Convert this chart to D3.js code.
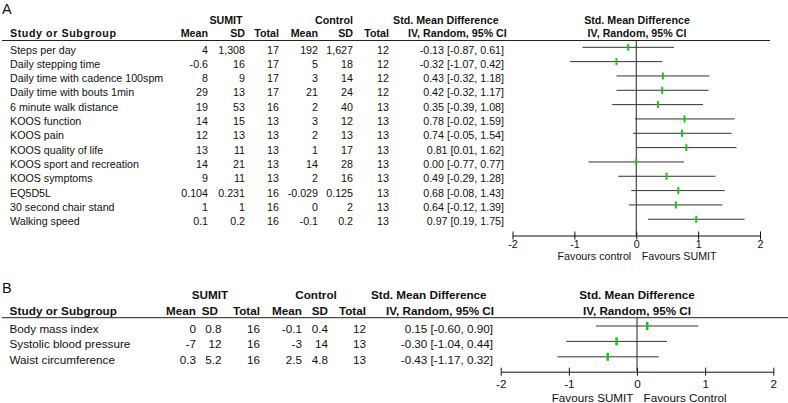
<!DOCTYPE html>
<html>
<head>
<meta charset="utf-8">
<script src="https://cdn.jsdelivr.net/npm/d3@7"></script>
<style>
  html, body { margin: 0; padding: 0; background: #fff; }
  svg { display: block; font-family: "Liberation Sans", Arial, sans-serif; }
</style>
</head>
<body>
<svg id="chart" width="788" height="403"></svg>
<script>
// ---------- Panel A data ----------
const outcomesA = ["Steps per day", "Daily stepping time", "Daily time with cadence 100spm",
  "Daily time with bouts 1min", "6 minute walk distance", "KOOS function", "KOOS pain",
  "KOOS quality of life", "KOOS sport and recreation", "KOOS symptoms", "EQ5D5L",
  "30 second chair stand", "Walking speed"];
const sumitMeanA = [4, -0.6, 8, 29, 19, 14, 12, 13, 14, 9, 0.104, 1, 0.1];
const sumitSdA = [1308, 16, 9, 13, 53, 15, 13, 11, 21, 11, 0.231, 1, 0.2];
const sumitTotalA = [17, 17, 17, 17, 16, 13, 13, 13, 13, 13, 16, 16, 16];
const controlMeanA = [192, 5, 3, 21, 2, 3, 2, 1, 14, 2, -0.029, 0, -0.1];
const controlSdA = [1627, 18, 14, 24, 40, 12, 13, 17, 28, 16, 0.125, 2, 0.2];
const controlTotalA = [12, 12, 12, 12, 13, 13, 13, 13, 13, 13, 13, 13, 13];
const smdA = [-0.13, -0.32, 0.43, 0.42, 0.35, 0.78, 0.74, 0.81, 0.00, 0.49, 0.68, 0.64, 0.97];
const loA = [-0.87, -1.07, -0.32, -0.32, -0.39, -0.02, -0.05, 0.01, -0.77, -0.29, -0.08, -0.12, 0.19];
const hiA = [0.61, 0.42, 1.18, 1.17, 1.08, 1.59, 1.54, 1.62, 0.77, 1.28, 1.43, 1.39, 1.75];

// ---------- Panel B data ----------
const outcomesB = ["Body mass index", "Systolic blood pressure", "Waist circumference"];
const sumitMeanB = [0, -7, 0.3];
const sumitSdB = [0.8, 12, 5.2];
const sumitTotalB = [16, 16, 16];
const controlMeanB = [-0.1, -3, 2.5];
const controlSdB = [0.4, 14, 4.8];
const controlTotalB = [12, 13, 13];
const smdB = [0.15, -0.30, -0.43];
const loB = [-0.60, -1.04, -1.17];
const hiB = [0.90, 0.44, 0.32];

// ---------- shared labels ----------
const tickValues = [-2, -1, 0, 1, 2];
const tickLabels = ["-2", "-1", "0", "1", "2"];
const favoursA = ["Favours control", "Favours SUMIT"];
const favoursB = ["Favours SUMIT", "Favours Control"];

const svg = d3.select("#chart");
const fmtVal = v => Math.abs(v) >= 1000 ? d3.format(",")(v) : String(v);
const f2 = v => v.toFixed(2);

function drawPanel(c) {
  const g = svg.append("g");
  const fs = c.fs;
  const txt = (x, y, s, anchor, bold, size) =>
    g.append("text").attr("x", x).attr("y", y).attr("text-anchor", anchor || "start")
      .attr("font-size", size || fs).attr("font-weight", bold ? "bold" : "normal")
      .attr("fill", "#111").text(s);

  // panel letter
  txt(c.letterX, c.letterY, c.letter, "start", false, 14.5);

  // group headers
  txt(c.sumitC, c.grpY, "SUMIT", "middle", true);
  txt(c.controlC, c.grpY, "Control", "middle", true);
  txt(c.smdX, c.grpY, "Std. Mean Difference", "start", true);
  txt(c.plotHdrC, c.grpY, "Std. Mean Difference", "middle", true);

  // column headers
  txt(c.nameX, c.colY, "Study or Subgroup", "start", true).attr("textLength", c.studyLen).attr("lengthAdjust", "spacing");
  const hdrs = ["Mean", "SD", "Total", "Mean", "SD", "Total"];
  hdrs.forEach((h, i) => txt(c.hdrCols[i], c.colY, h, "end", true));
  txt(c.ivX, c.colY, "IV, Random, 95% CI", "start", true);
  txt(c.plotHdrC, c.colY, "IV, Random, 95% CI", "middle", true);

  // header rule
  g.append("line").attr("x1", c.ruleX1).attr("x2", c.ruleX2)
    .attr("y1", c.ruleY).attr("y2", c.ruleY).attr("stroke", "#222").attr("stroke-width", 1);

  const x = d3.scaleLinear().domain([-2, 2]).range(c.xRange);
  const rowY = i => c.row0 + c.rowH * i;
  const cols = [c.sMean, c.sSd, c.sTot, c.cMean, c.cSd, c.cTot];

  c.names.forEach((n, i) => {
    const y = rowY(i);
    txt(c.nameX, y, n);
    cols.forEach((arr, k) => txt(c.valCols[k], y, fmtVal(arr[i]), "end"));
    txt(c.ciRight, y, `${f2(c.smd[i])} [${f2(c.lo[i])}, ${f2(c.hi[i])}]`, "end");
  });

  // zero line
  g.append("line").attr("x1", x(0)).attr("x2", x(0)).attr("y1", c.ruleY).attr("y2", c.axisY)
    .attr("stroke", "#222").attr("stroke-width", 1);

  // CI lines
  g.selectAll(".ci").data(c.names).join("line")
    .attr("x1", (d, i) => x(c.lo[i])).attr("x2", (d, i) => x(c.hi[i]))
    .attr("y1", (d, i) => rowY(i) - c.ciOff).attr("y2", (d, i) => rowY(i) - c.ciOff)
    .attr("stroke", "#333").attr("stroke-width", 1);
  // point markers
  g.selectAll(".pt").data(c.names).join("rect")
    .attr("x", (d, i) => x(c.smd[i]) - c.mW / 2).attr("width", c.mW)
    .attr("y", (d, i) => rowY(i) - c.ciOff - c.mH / 2).attr("height", c.mH)
    .attr("fill", "#16c716");

  // axis
  const ax = g.append("g").attr("transform", `translate(0,${c.axisY})`)
    .call(d3.axisBottom(x).tickValues(tickValues).tickFormat((d, i) => tickLabels[i])
      .tickSizeOuter(0).tickSizeInner(4));
  ax.select(".domain").attr("stroke", "#111");
  ax.selectAll(".tick line").attr("y1", -4).attr("y2", 4).attr("stroke", "#111");
  ax.selectAll(".tick text").attr("y", c.tickLabOff).attr("dy", null)
    .attr("font-size", fs).attr("font-family", "Liberation Sans, Arial, sans-serif").attr("fill", "#111");

  txt(x(0) - c.favGapL, c.favY, c.fav[0], "end");
  txt(x(0) + c.favGapR, c.favY, c.fav[1], "start");
}

drawPanel({
  letter: "A", letterX: 2, letterY: 13.5, fs: 10.7,
  sumitC: 226, controlC: 334, smdX: 393, plotHdrC: 637, grpY: 23.5,
  colY: 37, nameX: 10, studyLen: 106,
  hdrCols: [208, 245, 279, 318, 353, 389], valCols: [208, 245, 279, 318, 353, 389],
  ivX: 408, ruleX1: 2, ruleX2: 770, ruleY: 40.5,
  names: outcomesA, sMean: sumitMeanA, sSd: sumitSdA, sTot: sumitTotalA,
  cMean: controlMeanA, cSd: controlSdA, cTot: controlTotalA,
  smd: smdA, lo: loA, hi: hiA,
  row0: 53.5, rowH: 14.33, ciRight: 504, ciOff: 6.2, mW: 2, mH: 7,
  xRange: [512.5, 760], axisY: 235.5, tickLabOff: 12.5, favY: 260, fav: favoursA,
  favGapL: 5, favGapR: 5.5
});

drawPanel({
  letter: "B", letterX: 2, letterY: 293, fs: 11.7,
  sumitC: 210, controlC: 316, smdX: 371, plotHdrC: 637, grpY: 298.5,
  colY: 314.5, nameX: 9.5, studyLen: 107.5,
  hdrCols: [196, 218, 260, 302, 328, 366], valCols: [196, 221.5, 260, 302, 328, 366],
  ivX: 386, ruleX1: 2, ruleX2: 788, ruleY: 317.7,
  names: outcomesB, sMean: sumitMeanB, sSd: sumitSdB, sTot: sumitTotalB,
  cMean: controlMeanB, cSd: controlSdB, cTot: controlTotalB,
  smd: smdB, lo: loB, hi: hiB,
  row0: 333, rowH: 15.4, ciRight: 493, ciOff: 7, mW: 2.5, mH: 8,
  xRange: [500.7, 773.3], axisY: 371.7, tickLabOff: 16.6, favY: 401.5, fav: favoursB,
  favGapL: 3.5, favGapR: 6.5
});
</script>
</body>
</html>
